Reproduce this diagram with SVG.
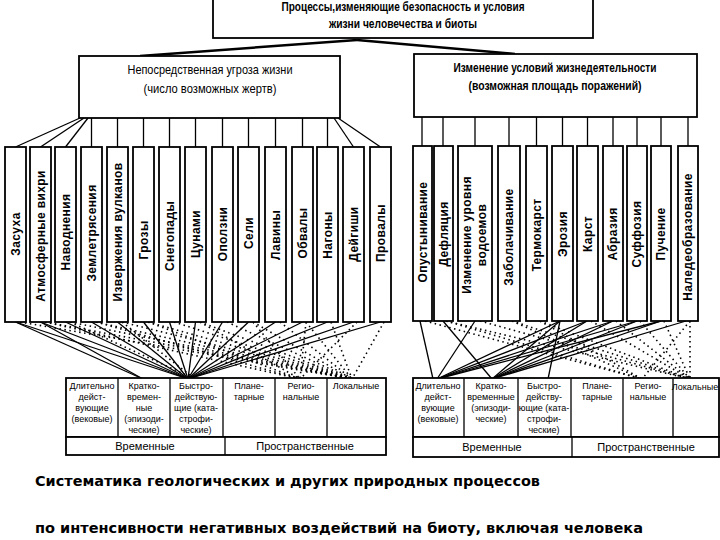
<svg xmlns="http://www.w3.org/2000/svg" width="720" height="540" viewBox="0 0 720 540">
<style>
.box{fill:#fff;stroke:#000;stroke-width:1.8}
.hd{font-family:"Liberation Sans",Arial,sans-serif;font-size:13px;fill:#000;text-anchor:middle}
.hdb{font-family:"Liberation Sans",Arial,sans-serif;font-size:13px;font-weight:bold;fill:#000;text-anchor:middle}
.vt{font-family:"Liberation Sans",Arial,sans-serif;font-size:12px;font-weight:bold;fill:#000;text-anchor:middle;letter-spacing:0.4px}
.tt{font-family:"Liberation Sans",Arial,sans-serif;font-size:9px;fill:#000;text-anchor:middle}
.bt{font-family:"Liberation Sans",Arial,sans-serif;font-size:11px;fill:#000;text-anchor:middle}
.cap{font-family:"DejaVu Sans",Verdana,sans-serif;font-size:14px;font-weight:bold;fill:#000}
.ln{stroke:#000;stroke-width:1.3;fill:none}
.lt{stroke:#000;stroke-width:2.5;fill:none}
.dt{stroke:#000;stroke-width:1.6;fill:none;stroke-dasharray:1.5 3.5}
</style>

<g id="connectors">
  <line class="lt" x1="357" y1="40" x2="140" y2="56"/>
  <line class="lt" x1="357" y1="40" x2="515" y2="54"/>
  <line class="ln" x1="80" y1="118" x2="15.5" y2="147"/>
  <line class="ln" x1="84" y1="118" x2="40.5" y2="147"/>
  <line class="ln" x1="88" y1="118" x2="65.5" y2="147"/>
  <line class="ln" x1="91.5" y1="118" x2="91.5" y2="147"/>
  <line class="ln" x1="117.5" y1="118" x2="117.5" y2="147"/>
  <line class="ln" x1="143.5" y1="118" x2="143.5" y2="147"/>
  <line class="ln" x1="169.5" y1="118" x2="169.5" y2="147"/>
  <line class="ln" x1="195.5" y1="118" x2="195.5" y2="147"/>
  <line class="ln" x1="222.5" y1="118" x2="222.5" y2="147"/>
  <line class="ln" x1="248.5" y1="118" x2="248.5" y2="147"/>
  <line class="ln" x1="275.5" y1="118" x2="275.5" y2="147"/>
  <line class="ln" x1="302.5" y1="118" x2="302.5" y2="147"/>
  <line class="ln" x1="327.5" y1="118" x2="327.5" y2="147"/>
  <line class="ln" x1="334" y1="118" x2="353.5" y2="147"/>
  <line class="ln" x1="338" y1="118" x2="380.5" y2="147"/>
  <line class="ln" x1="422" y1="117" x2="422" y2="146"/>
  <line class="ln" x1="443" y1="117" x2="443" y2="146"/>
  <line class="ln" x1="475" y1="117" x2="475" y2="146"/>
  <line class="ln" x1="509" y1="117" x2="509" y2="146"/>
  <line class="ln" x1="536.5" y1="117" x2="536.5" y2="146"/>
  <line class="ln" x1="562.5" y1="117" x2="562.5" y2="146"/>
  <line class="ln" x1="587.5" y1="117" x2="587.5" y2="146"/>
  <line class="ln" x1="613" y1="117" x2="613" y2="146"/>
  <line class="ln" x1="637" y1="117" x2="637" y2="146"/>
  <line class="ln" x1="661" y1="117" x2="661" y2="146"/>
  <line class="ln" x1="688" y1="117" x2="688" y2="146"/>

  <line class="ln" x1="15.5" y1="322" x2="188" y2="379"/>
  <line class="ln" x1="40.5" y1="322" x2="188" y2="379"/>
  <line class="ln" x1="65.5" y1="322" x2="188" y2="379"/>
  <line class="ln" x1="91.5" y1="322" x2="188" y2="379"/>
  <line class="ln" x1="117.5" y1="322" x2="188" y2="379"/>
  <line class="ln" x1="143.5" y1="322" x2="188" y2="379"/>
  <line class="ln" x1="169.5" y1="322" x2="188" y2="379"/>
  <line class="ln" x1="195.5" y1="322" x2="188" y2="379"/>
  <line class="ln" x1="222.5" y1="322" x2="188" y2="379"/>
  <line class="ln" x1="248.5" y1="322" x2="188" y2="379"/>
  <line class="ln" x1="275.5" y1="322" x2="188" y2="379"/>
  <line class="ln" x1="302.5" y1="322" x2="188" y2="379"/>
  <line class="ln" x1="327.5" y1="322" x2="188" y2="379"/>
  <line class="ln" x1="353.5" y1="322" x2="188" y2="379"/>
  <line class="ln" x1="380.5" y1="322" x2="188" y2="379"/>
  <line class="ln" x1="15.5" y1="322" x2="143" y2="379"/>
  <line class="ln" x1="40.5" y1="322" x2="143" y2="379"/>
  <line class="dt" x1="20" y1="322" x2="352" y2="379"/>
  <line class="dt" x1="45" y1="322" x2="300" y2="379"/>
  <line class="dt" x1="45" y1="322" x2="352" y2="379"/>
  <line class="dt" x1="70" y1="322" x2="352" y2="379"/>
  <line class="dt" x1="70" y1="322" x2="195" y2="379"/>
  <line class="dt" x1="96" y1="322" x2="352" y2="379"/>
  <line class="dt" x1="96" y1="322" x2="300" y2="379"/>
  <line class="dt" x1="122" y1="322" x2="352" y2="379"/>
  <line class="dt" x1="122" y1="322" x2="195" y2="379"/>
  <line class="dt" x1="148" y1="322" x2="352" y2="379"/>
  <line class="dt" x1="148" y1="322" x2="300" y2="379"/>
  <line class="dt" x1="174" y1="322" x2="352" y2="379"/>
  <line class="dt" x1="200" y1="322" x2="352" y2="379"/>
  <line class="dt" x1="200" y1="322" x2="300" y2="379"/>
  <line class="dt" x1="227" y1="322" x2="352" y2="379"/>
  <line class="dt" x1="253" y1="322" x2="352" y2="379"/>
  <line class="dt" x1="253" y1="322" x2="300" y2="379"/>
  <line class="dt" x1="280" y1="322" x2="352" y2="379"/>
  <line class="dt" x1="306" y1="322" x2="352" y2="379"/>
  <line class="dt" x1="306" y1="322" x2="300" y2="379"/>
  <line class="dt" x1="331" y1="322" x2="352" y2="379"/>
  <line class="dt" x1="357" y1="322" x2="300" y2="379"/>
  <line class="dt" x1="384" y1="322" x2="352" y2="379"/>

  <line class="ln" x1="420" y1="321" x2="433" y2="379"/>
  <line class="ln" x1="443" y1="321" x2="492" y2="379"/>
  <line class="ln" x1="475" y1="321" x2="437" y2="379"/>
  <line class="ln" x1="560" y1="321" x2="437" y2="379"/>
  <line class="ln" x1="560" y1="321" x2="492" y2="379"/>
  <line class="ln" x1="560" y1="321" x2="548" y2="379"/>
  <line class="ln" x1="587" y1="321" x2="437" y2="379"/>
  <line class="ln" x1="587" y1="321" x2="492" y2="379"/>
  <line class="ln" x1="613" y1="321" x2="437" y2="379"/>
  <line class="ln" x1="613" y1="321" x2="492" y2="379"/>
  <line class="ln" x1="637" y1="321" x2="437" y2="379"/>
  <line class="ln" x1="637" y1="321" x2="492" y2="379"/>
  <line class="ln" x1="661" y1="321" x2="437" y2="379"/>
  <line class="ln" x1="661" y1="321" x2="492" y2="379"/>
  <line class="ln" x1="686" y1="321" x2="492" y2="379"/>
  <line class="dt" x1="425" y1="321" x2="642" y2="379"/>
  <line class="dt" x1="446" y1="321" x2="690" y2="379"/>
  <line class="dt" x1="446" y1="321" x2="642" y2="379"/>
  <line class="dt" x1="480" y1="321" x2="690" y2="379"/>
  <line class="dt" x1="512" y1="321" x2="642" y2="379"/>
  <line class="dt" x1="512" y1="321" x2="690" y2="379"/>
  <line class="dt" x1="540" y1="321" x2="642" y2="379"/>
  <line class="dt" x1="540" y1="321" x2="690" y2="379"/>
  <line class="dt" x1="591" y1="321" x2="690" y2="379"/>
  <line class="dt" x1="616" y1="321" x2="690" y2="379"/>
  <line class="dt" x1="640" y1="321" x2="690" y2="379"/>
  <line class="dt" x1="664" y1="321" x2="690" y2="379"/>
  <line class="dt" x1="690" y1="321" x2="690" y2="379"/>
  <line class="dt" x1="690" y1="321" x2="642" y2="379"/>
</g>

<g id="top">
  <rect class="box" x="213" y="-20" width="380" height="58"/>
  <text class="hdb" x="403" y="11" font-size="12" textLength="243" lengthAdjust="spacingAndGlyphs">Процессы,изменяющие безопасность и условия</text>
  <text class="hdb" x="403" y="28" font-size="12" textLength="148" lengthAdjust="spacingAndGlyphs">жизни человечества и биоты</text>
</g>

<g id="threat">
  <rect class="box" x="79" y="56" width="261" height="62"/>
  <text class="hd" x="210" y="74" textLength="165" lengthAdjust="spacingAndGlyphs">Непосредственная угроза жизни</text>
  <text class="hd" x="210" y="93" textLength="133" lengthAdjust="spacingAndGlyphs">(число возможных жертв)</text>
</g>

<g id="conditions">
  <rect class="box" x="414" y="54" width="283" height="63"/>
  <text class="hdb" x="555" y="72" textLength="203" lengthAdjust="spacingAndGlyphs">Изменение условий жизнедеятельности</text>
  <text class="hdb" x="555" y="90" textLength="173" lengthAdjust="spacingAndGlyphs">(возможная площадь поражений)</text>
</g>

<g id="l01"><rect class="box" x="5" y="147" width="21" height="175"/><text class="vt" transform="translate(15.5,234) rotate(-90)" dy="4.3">Засуха</text></g>
<g id="l02"><rect class="box" x="30" y="147" width="21" height="175"/><text class="vt" transform="translate(40.5,236) rotate(-90)" dy="4.3">Атмосферные вихри</text></g>
<g id="l03"><rect class="box" x="55" y="147" width="21" height="175"/><text class="vt" transform="translate(65.5,232) rotate(-90)" dy="4.3">Наводнения</text></g>
<g id="l04"><rect class="box" x="81" y="147" width="21" height="175"/><text class="vt" transform="translate(91.5,233) rotate(-90)" dy="4.3">Землетрясения</text></g>
<g id="l05"><rect class="box" x="107" y="147" width="21" height="175"/><text class="vt" transform="translate(117.5,232) rotate(-90)" dy="4.3">Извержения вулканов</text></g>
<g id="l06"><rect class="box" x="133" y="147" width="21" height="175"/><text class="vt" transform="translate(143.5,240) rotate(-90)" dy="4.3">Грозы</text></g>
<g id="l07"><rect class="box" x="159" y="147" width="21" height="175"/><text class="vt" transform="translate(169.5,236) rotate(-90)" dy="4.3">Снегопады</text></g>
<g id="l08"><rect class="box" x="185" y="147" width="21" height="175"/><text class="vt" transform="translate(195.5,234) rotate(-90)" dy="4.3">Цунами</text></g>
<g id="l09"><rect class="box" x="212" y="147" width="21" height="175"/><text class="vt" transform="translate(222.5,234) rotate(-90)" dy="4.3">Оползни</text></g>
<g id="l10"><rect class="box" x="238" y="147" width="21" height="175"/><text class="vt" transform="translate(248.5,233) rotate(-90)" dy="4.3">Сели</text></g>
<g id="l11"><rect class="box" x="265" y="147" width="21" height="175"/><text class="vt" transform="translate(275.5,235) rotate(-90)" dy="4.3">Лавины</text></g>
<g id="l12"><rect class="box" x="292" y="147" width="21" height="175"/><text class="vt" transform="translate(302.5,233) rotate(-90)" dy="4.3">Обвалы</text></g>
<g id="l13"><rect class="box" x="317" y="147" width="21" height="175"/><text class="vt" transform="translate(327.5,235) rotate(-90)" dy="4.3">Нагоны</text></g>
<g id="l14"><rect class="box" x="343" y="147" width="21" height="175"/><text class="vt" transform="translate(353.5,234) rotate(-90)" dy="4.3">Дейгиши</text></g>
<g id="l15"><rect class="box" x="370" y="147" width="21" height="175"/><text class="vt" transform="translate(380.5,233) rotate(-90)" dy="4.3">Провалы</text></g>

<g id="r01"><rect class="box" x="413" y="146" width="19" height="175"/><text class="vt" transform="translate(422.5,232) rotate(-90)" dy="4.3">Опустынивание</text></g>
<g id="r02"><rect class="box" x="434" y="146" width="19" height="175"/><text class="vt" transform="translate(443.5,234) rotate(-90)" dy="4.3">Дефляция</text></g>
<g id="r03"><rect class="box" x="458" y="146" width="34" height="175"/><text class="vt" transform="translate(475,235) rotate(-90)"><tspan x="0" dy="-4">Изменение уровня</tspan><tspan x="0" dy="15">водоемов</tspan></text></g>
<g id="r04"><rect class="box" x="498" y="146" width="22" height="175"/><text class="vt" transform="translate(509,237) rotate(-90)" dy="4.3">Заболачивание</text></g>
<g id="r05"><rect class="box" x="526" y="146" width="21" height="175"/><text class="vt" transform="translate(536.5,235) rotate(-90)" dy="4.3">Термокарст</text></g>
<g id="r06"><rect class="box" x="552" y="146" width="21" height="175"/><text class="vt" transform="translate(562.5,234) rotate(-90)" dy="4.3">Эрозия</text></g>
<g id="r07"><rect class="box" x="577" y="146" width="21" height="175"/><text class="vt" transform="translate(587.5,234) rotate(-90)" dy="4.3">Карст</text></g>
<g id="r08"><rect class="box" x="603" y="146" width="20" height="175"/><text class="vt" transform="translate(613,234) rotate(-90)" dy="4.3">Абразия</text></g>
<g id="r09"><rect class="box" x="627" y="146" width="20" height="175"/><text class="vt" transform="translate(637,234) rotate(-90)" dy="4.3">Суффозия</text></g>
<g id="r10"><rect class="box" x="651" y="146" width="20" height="175"/><text class="vt" transform="translate(661,234) rotate(-90)" dy="4.3">Пучение</text></g>
<g id="r11"><rect class="box" x="678" y="146" width="20" height="175"/><text class="vt" transform="translate(688,237) rotate(-90)" dy="4.3">Наледеобразование</text></g>

<g id="table-left">
  <rect class="box" x="66" y="378" width="320" height="59"/>
  <line class="ln" x1="118" y1="378" x2="118" y2="437"/>
  <line class="ln" x1="170" y1="378" x2="170" y2="437"/>
  <line class="ln" x1="223" y1="378" x2="223" y2="437"/>
  <line class="ln" x1="275" y1="378" x2="275" y2="437"/>
  <line class="ln" x1="327" y1="378" x2="327" y2="437"/>
  <rect class="box" x="66" y="437" width="320" height="18"/>
  <line class="ln" x1="225" y1="437" x2="225" y2="455"/>
  <text class="tt" x="92" y="389">Длительно</text>
  <text class="tt" x="92" y="400">дейст-</text>
  <text class="tt" x="92" y="411">вующие</text>
  <text class="tt" x="92" y="422">(вековые)</text>
  <text class="tt" x="144" y="389">Кратко-</text>
  <text class="tt" x="144" y="400">времен-</text>
  <text class="tt" x="144" y="411">ные</text>
  <text class="tt" x="144" y="422">(эпизоди-</text>
  <text class="tt" x="144" y="433">ческие)</text>
  <text class="tt" x="196" y="389">Быстро-</text>
  <text class="tt" x="196" y="400">действую-</text>
  <text class="tt" x="196" y="411">щие (ката-</text>
  <text class="tt" x="196" y="422">строфи-</text>
  <text class="tt" x="196" y="433">ческие)</text>
  <text class="tt" x="249" y="389">Плане-</text>
  <text class="tt" x="249" y="400">тарные</text>
  <text class="tt" x="301" y="389">Регио-</text>
  <text class="tt" x="301" y="400">нальные</text>
  <text class="tt" x="356" y="389">Локальные</text>
  <text class="bt" x="145" y="450">Временные</text>
  <text class="bt" x="305" y="450">Пространственные</text>
</g>

<g id="table-right">
  <rect class="box" x="413" y="378" width="306" height="59"/>
  <line class="ln" x1="464" y1="378" x2="464" y2="437"/>
  <line class="ln" x1="518" y1="378" x2="518" y2="437"/>
  <line class="ln" x1="571" y1="378" x2="571" y2="437"/>
  <line class="ln" x1="623" y1="378" x2="623" y2="437"/>
  <line class="ln" x1="673" y1="378" x2="673" y2="437"/>
  <rect class="box" x="413" y="437" width="306" height="20"/>
  <line class="ln" x1="572" y1="437" x2="572" y2="457"/>
  <text class="tt" x="438" y="389">Длительно</text>
  <text class="tt" x="438" y="400">дейст-</text>
  <text class="tt" x="438" y="411">вующие</text>
  <text class="tt" x="438" y="422">(вековые)</text>
  <text class="tt" x="491" y="389">Кратко-</text>
  <text class="tt" x="491" y="400">временные</text>
  <text class="tt" x="491" y="411">(эпизоди-</text>
  <text class="tt" x="491" y="422">ческие)</text>
  <text class="tt" x="544" y="389">Быстро-</text>
  <text class="tt" x="544" y="400">действу-</text>
  <text class="tt" x="544" y="411">ющие (ката-</text>
  <text class="tt" x="544" y="422">строфи-</text>
  <text class="tt" x="544" y="433">ческие)</text>
  <text class="tt" x="597" y="389">Плане-</text>
  <text class="tt" x="597" y="400">тарные</text>
  <text class="tt" x="648" y="389">Регио-</text>
  <text class="tt" x="648" y="400">нальные</text>
  <text class="tt" x="695" y="390" font-size="8">Локальные</text>
  <text class="bt" x="492" y="451">Временные</text>
  <text class="bt" x="646" y="451">Пространственные</text>
</g>

<g id="caption">
  <text class="cap" x="35" y="486" textLength="505" lengthAdjust="spacingAndGlyphs">Систематика геологических и других природных процессов</text>
  <text class="cap" x="35" y="533" textLength="608" lengthAdjust="spacingAndGlyphs">по интенсивности негативных воздействий на биоту, включая человека</text>
</g>
</svg>
